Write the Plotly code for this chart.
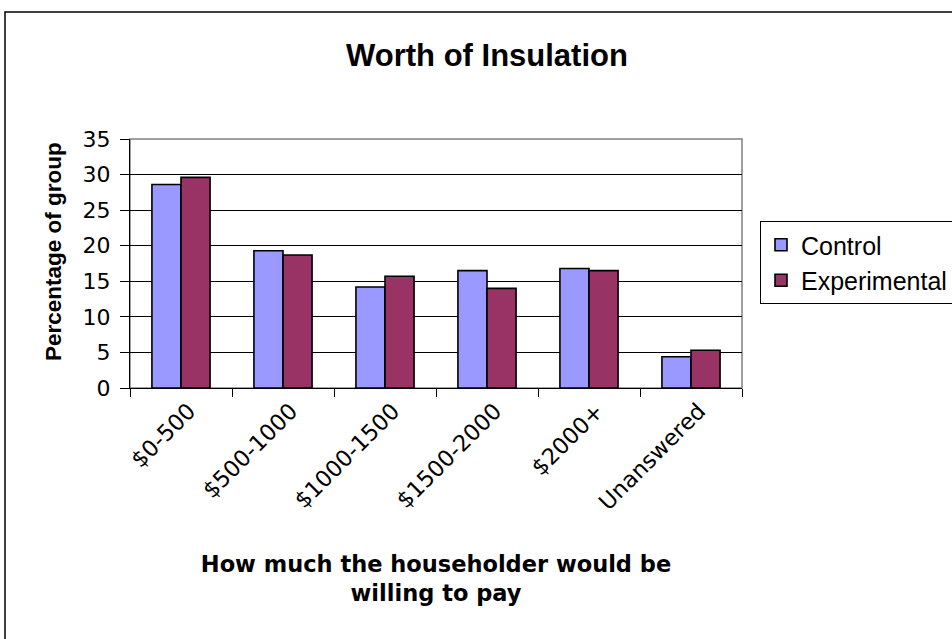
import plotly.graph_objects as go

categories = ["$0-500", "$500-1000", "$1000-1500", "$1500-2000", "$2000+", "Unanswered"]
control = [28.6, 19.3, 14.2, 16.5, 16.8, 4.4]
experimental = [29.6, 18.7, 15.7, 14.0, 16.5, 5.3]
y_ticks = [0, 5, 10, 15, 20, 25, 30, 35]

ARIAL = "Liberation Sans, Arial, sans-serif"
WIDE = "DejaVu Sans, Liberation Sans, sans-serif"

fig = go.Figure()
fig.add_trace(go.Bar(x=categories, y=control, name="Control", legendgroup="c",
                     marker=dict(color="#9999FF", line=dict(color="black", width=1.6))))
fig.add_trace(go.Bar(x=categories, y=experimental, name="Experimental", legendgroup="e",
                     marker=dict(color="#993366", line=dict(color="black", width=1.6))))

W, H = 952, 639
L, R, T, B = 130, 210, 139, 251
pw, ph = W - L - R, H - T - B

def px_x(x):
    return (x - L) / pw

def px_y(y):
    return (H - B - y) / ph

fig.update_layout(
    width=W, height=H,
    margin=dict(l=L, r=R, t=T, b=B, autoexpand=False),
    paper_bgcolor="white", plot_bgcolor="white",
    font=dict(family=ARIAL, size=18, color="black"),
    barmode="group", bargap=0.43, bargroupgap=0,
    title=dict(text="<b>Worth of Insulation</b>", font=dict(size=31, family=ARIAL),
               x=px_x(487), xref="paper", xanchor="center", y=1 - 55 / H, yanchor="middle"),
    xaxis=dict(type="category", tickangle=-45, ticks="outside", tickson="boundaries", ticklen=8,
               tickcolor="black", showline=True, linecolor="black", linewidth=1,
               showgrid=False, tickfont=dict(size=22.5, family=WIDE), ticklabelshift=8,
               title=dict(text="<b>How much the householder would be<br>willing to pay</b>",
                          font=dict(size=22.5, family=WIDE), standoff=42)),
    yaxis=dict(range=[0, 35], tickvals=y_ticks, ticks="outside", ticklen=9, tickcolor="black",
               showline=True, linecolor="black", linewidth=1, showgrid=True, gridcolor="black",
               gridwidth=1, zeroline=False, tickfont=dict(size=22, family=WIDE),
               ticklabelstandoff=5),
    legend=dict(x=px_x(760), y=px_y(221), xanchor="left", yanchor="top",
                bordercolor="black", borderwidth=1, bgcolor="white",
                font=dict(size=25, family=ARIAL), tracegroupgap=10, traceorder="normal"),
    showlegend=True,
    annotations=[
        dict(text="<b>Percentage of group</b>", textangle=-90, xref="paper", yref="paper",
             x=px_x(53), y=px_y(252), xanchor="center", yanchor="middle", showarrow=False,
             font=dict(size=22.5, family=ARIAL)),
    ],
    shapes=[
        dict(type="rect", xref="paper", yref="paper", x0=0, x1=1, y0=0, y1=1,
             line=dict(color="#808080", width=1.5), layer="below"),
        dict(type="rect", xref="paper", yref="paper", x0=px_x(5), x1=px_x(965),
             y0=px_y(650), y1=px_y(12), line=dict(color="black", width=1.5)),
    ],
)

fig.write_html("out.html", config={"displayModeBar": False})

with open("out.html", "r", encoding="utf-8") as f:
    html = f.read()
html = html.replace("<head>", "<head><style>html,body{margin:0;padding:0;overflow:hidden;}</style>", 1)
with open("out.html", "w", encoding="utf-8") as f:
    f.write(html)
